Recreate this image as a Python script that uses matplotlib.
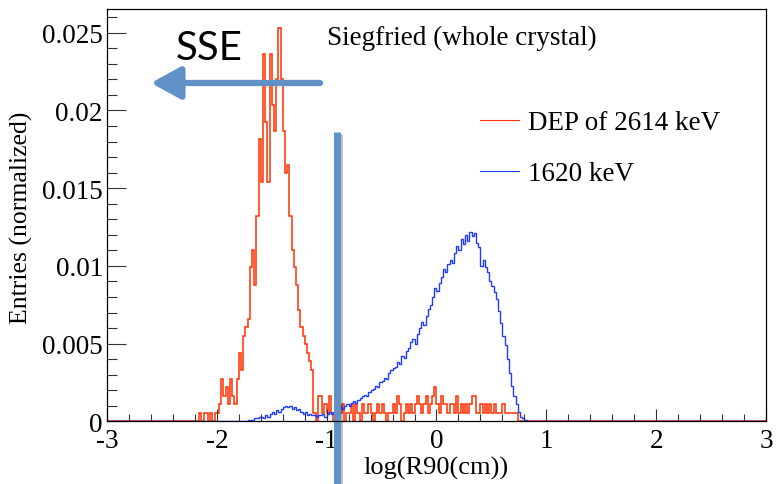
import numpy as np
import matplotlib
matplotlib.use("Agg")
import matplotlib.pyplot as plt
from matplotlib.lines import Line2D
from matplotlib import patheffects as pe

plt.rcParams['font.family'] = ['Liberation Serif', 'DejaVu Serif']

# histogram binning (log10 of R90 in cm)
x_min, x_max, bin_w = -3.0, 3.0, 0.02

# DEP of 2614 keV: entries per bin, starting at x = -2.20
red_start = -2.20
red_counts = [
    0, 0, 1, 0, 1,   1, 0, 1, 0, 1,   1, 2, 5, 3, 4,   2, 5, 3, 2, 5,
    8, 6, 10, 11, 12,   18, 20, 16, 24, 33,   28, 43, 35, 28, 43,   37, 34, 40, 46, 40,
    34, 29, 30, 24, 20,   18, 16, 13, 11, 10,   9, 8, 7, 6, 1,   0, 3, 3, 1,
    2, 1, 3, 1, 0,   1, 3, 1, 2, 0,   1, 1, 2, 0, 2,   1, 0, 2, 1, 1,
    2, 1, 0, 1, 2,   1, 2, 1, 0, 1,   1, 2, 1, 3, 2,   0, 1, 2, 1, 2,
    1, 2, 3, 2, 1,   2, 3, 1, 2, 3,   4, 2, 1, 3, 2,   2, 1, 2, 2, 1,
    3, 1, 2, 1, 2,   1, 2, 3, 3, 1,   1, 2, 1, 2, 1,   2, 1, 2, 1, 1,
    1, 2, 1, 1, 1,   1, 1, 1, 0, 0,
]
red_weight = 0.00055  # normalisation per entry

# 1620 keV: normalised content (x 1e-4) per bin, starting at x = -1.76
blue_start = -1.76
blue_vals = [
    0, 0, 1, 1, 1,   2, 2, 3, 3, 2,   4, 3, 5, 6, 5,   7, 6, 8, 9, 10,
    9, 10, 8, 9, 7,   8, 6, 5, 6, 4,   5, 4, 4, 3, 4,   4, 5, 3, 5, 6,
    5, 6, 7, 8, 9,   8, 10, 11, 10, 12,   13, 12, 14, 15, 16,   17, 16, 19, 20, 21,
    23, 22, 25, 26, 28,   27, 31, 33, 34, 35,   38, 37, 42, 41, 45,   47, 51, 53, 50, 56,
    60, 64, 62, 68, 72,   75, 80, 86, 84, 89,   93, 98, 96, 101, 104,   102, 108, 113, 110, 117,
    114, 120, 116, 122, 119,   121, 115, 112, 100, 104,   99, 96, 90, 87, 83,   79, 71, 63, 55, 49,
    40, 31, 23, 16, 11,   6, 3, 2, 1, 0,   0,
]

legend_labels = ["DEP of 2614 keV", "1620 keV"]
red_color = '#ff3000'
blue_color = '#1f3cff'
mark_color = '#6092c8'

edges = np.round(np.arange(x_min, x_max + bin_w / 2, bin_w), 4)
n_bins = len(edges) - 1

def fill_hist(start, vals, scale):
    h = np.zeros(n_bins)
    i0 = int(round((start - x_min) / bin_w))
    h[i0:i0 + len(vals)] = np.array(vals, dtype=float) * scale
    return h

red_h = fill_hist(red_start, red_counts, red_weight)
blue_h = fill_hist(blue_start, blue_vals, 1e-4)

fig = plt.figure(figsize=(7.76, 4.85), dpi=100)
ax = fig.add_axes([107 / 776, 1 - 422.3 / 485, (766 - 107) / 776, (422.3 - 10) / 485])

ax.stairs(red_h, edges, color=red_color, lw=1.1, baseline=None)
ax.stairs(blue_h, edges, color=blue_color, lw=1.0, baseline=None)

ax.set_xlim(x_min, x_max)
ax.set_ylim(0, 0.02653)

ax.set_xticks([-3, -2, -1, 0, 1, 2, 3])
ax.set_xticklabels(['-3', '-2', '-1', '0', '1', '2', '3'])
ax.set_xticks(np.arange(-3, 3.01, 0.2), minor=True)
ax.set_yticks([0, 0.005, 0.01, 0.015, 0.02, 0.025])
ax.set_yticklabels(['0', '0.005', '0.01', '0.015', '0.02', '0.025'])
ax.set_yticks(np.arange(0, 0.0265, 0.001), minor=True)

ax.tick_params(axis='both', which='both', direction='in', top=False, right=False,
               labelsize=19.5, width=0.8, color='#333333')
ax.tick_params(axis='x', which='major', length=9, pad=5)
ax.tick_params(axis='x', which='minor', length=5)
ax.tick_params(axis='y', which='major', length=14, pad=3)
ax.tick_params(axis='y', which='minor', length=7)
for s in ax.spines.values():
    s.set_linewidth(0.9)

ax.set_xlabel('log(R90(cm))', fontsize=19)
ax.set_ylabel('Entries (normalized)', fontsize=18.5)
ax.xaxis.set_label_coords(0.5, -0.085)
ax.yaxis.set_label_coords(-0.113, 0.497)

fig.text(327 / 776, 1 - 38 / 485, 'Siegfried (whole crystal)', fontsize=19.5,
         ha='left', va='center')

handles = [Line2D([], [], color=red_color, lw=0.8), Line2D([], [], color=blue_color, lw=0.8)]
ax.legend(handles, legend_labels, loc='upper left', bbox_to_anchor=(0.545, 0.787),
          frameon=False, fontsize=19.5, handlelength=1.45, handletextpad=0.35,
          labelspacing=0.95, borderpad=0)

# SSE annotation: arrow and cut line
shadow = [pe.SimplePatchShadow(offset=(1.5, -1.5), alpha=0.25), pe.Normal()]
ax.annotate('', xy=(-2.6, 0.02177), xytext=(-1.06, 0.02177),
            arrowprops=dict(arrowstyle='-|>,head_length=1.0,head_width=0.55',
                            lw=4.5, color=mark_color, mutation_scale=18,
                            shrinkA=0, shrinkB=0, path_effects=shadow),
            annotation_clip=False)
ax.plot([-0.91, -0.91], [0.01862, -0.0045], color=mark_color, lw=5,
        solid_capstyle='butt', clip_on=False,
        path_effects=[pe.SimpleLineShadow(offset=(1.5, -1.5), alpha=0.25), pe.Normal()])
fig.text(209 / 776, 1 - 48 / 485, 'SSE', fontsize=29, family=['Lato', 'DejaVu Sans'],
         ha='center', va='center')

fig.savefig('out.png', dpi=100)
